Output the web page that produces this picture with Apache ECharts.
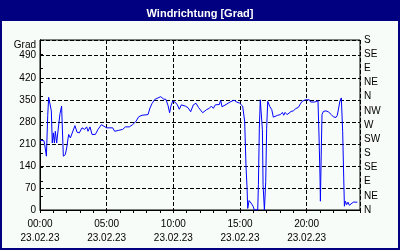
<!DOCTYPE html>
<html>
<head>
<meta charset="utf-8">
<script src="https://cdn.jsdelivr.net/npm/echarts@6/dist/echarts.min.js"></script>
<style>
  html, body { margin: 0; padding: 0; background: #f8fcf8; }
  #chart { width: 400px; height: 250px; }
</style>
</head>
<body>
<div id="chart"></div>
<script>
// Windrichtung über den Tag (Stunden seit 00:00, Grad)
const hours = [
  0.00, 0.30, 0.35, 0.48, 0.58, 0.65, 0.78, 0.85, 0.92, 1.00, 1.08, 1.15, 1.25, 1.38, 1.42, 1.50, 1.62, 1.75, 1.90, 2.00,
  2.15, 2.28, 2.40, 2.62, 2.78, 2.95, 3.15, 3.35, 3.50, 3.60, 3.75, 3.90, 4.15, 4.35, 4.60, 4.75, 5.00, 5.45, 5.60, 5.75,
  5.90, 6.05, 6.20, 6.40, 6.70, 6.95, 7.20, 7.40, 7.65, 8.10, 8.25, 8.40, 8.60, 8.85, 9.05, 9.25, 9.45, 9.60, 9.72, 9.82,
  9.95, 10.15, 10.30, 10.45, 10.60, 10.75, 10.90, 11.10, 11.20, 11.30, 11.50, 11.70, 11.90, 12.00, 12.20, 12.35, 12.50, 12.70, 12.85, 13.00,
  13.15, 13.30, 13.45, 13.55, 13.65, 13.80, 13.95, 14.10, 14.25, 14.40, 14.55, 14.65, 14.75, 14.85, 14.95, 15.10, 15.20, 15.30, 15.35, 15.45,
  15.53, 15.58, 15.68, 15.83, 15.98, 16.08, 16.33, 16.38, 16.45, 16.52, 16.62, 16.68, 16.73, 16.83, 16.93, 17.00, 17.08, 17.23, 17.38, 17.50,
  17.63, 17.83, 18.03, 18.18, 18.28, 18.38, 18.53, 18.68, 18.83, 19.00, 19.18, 19.38, 19.53, 19.65, 19.80, 19.90, 20.05, 20.20, 20.30, 20.45,
  20.60, 20.75, 20.85, 20.93, 21.00, 21.03, 21.10, 21.15, 21.25, 21.45, 21.65, 21.85, 22.00, 22.20, 22.30, 22.40, 22.50, 22.60, 22.70, 22.78,
  22.83, 22.90, 23.00, 23.10, 23.20, 23.35, 23.50, 23.65, 23.80
];
const degrees = [
  222, 220, 208, 171, 300, 358, 358, 315, 213, 245, 213, 250, 213, 213, 277, 306, 330, 171, 176, 197,
  240, 229, 234, 268, 247, 245, 261, 256, 264, 250, 264, 240, 240, 256, 271, 268, 261, 261, 250, 245,
  253, 247, 256, 264, 264, 271, 282, 296, 301, 303, 324, 338, 351, 356, 360, 353, 351, 332, 309, 330,
  346, 342, 334, 320, 334, 339, 330, 325, 330, 312, 334, 339, 325, 322, 309, 306, 319, 323, 330, 323,
  334, 328, 335, 349, 328, 330, 335, 330, 343, 338, 349, 353, 343, 349, 340, 335, 330, 334, 282, 140,
  69, 5, 30, 22, 12, 0, 0, 80, 260, 350, 350, 255, 80, 0, 91, 260, 345, 329, 319, 295,
  301, 301, 303, 310, 301, 310, 303, 308, 313, 315, 322, 326, 337, 345, 348, 350, 353, 350, 343, 347,
  343, 345, 347, 229, 105, 28, 197, 303, 313, 315, 311, 303, 296, 294, 301, 324, 347, 356, 250, 102,
  12, 28, 17, 25, 15, 19, 25, 21, 25
];
const directions = ['N', 'NE', 'E', 'SE', 'S', 'SW', 'W', 'NW', 'N', 'NE', 'E', 'SE', 'S'];
const dateLabel = '23.02.23';

const NAVY = '#000080';
const FONT = { fontFamily: 'Liberation Sans', fontSize: 10, color: '#000' };
const dashed = { color: '#000', type: [4, 2], width: 1 };

const chart = echarts.init(document.getElementById('chart'));

function pad2(n) { return (n < 10 ? '0' : '') + n; }

chart.setOption({
  animation: false,
  backgroundColor: '#f8fcf8',
  title: {
    text: 'Windrichtung [Grad]',
    left: 'center',
    top: 3,
    textStyle: { fontFamily: 'Liberation Sans', fontSize: 11, fontWeight: 'bold', color: '#fff' },
  },
  graphic: [
    { type: 'rect', z: -1, shape: { x: 0, y: 0, width: 400, height: 21 }, style: { fill: NAVY } },
    { type: 'rect', z: 100, shape: { x: 1, y: 1, width: 398, height: 248 }, style: { fill: null, stroke: NAVY, lineWidth: 2 } },
  ],
  grid: {
    left: 40, right: 40, top: 40, bottom: 40,
    containLabel: false,
    outerBoundsMode: 'none',
    show: true,
    backgroundColor: '#f8fcf8',
    borderColor: '#000',
    borderWidth: 1,
  },
  xAxis: [
    {
      type: 'value', min: 0, max: 24, interval: 5, position: 'bottom',
      axisLine: { show: true, lineStyle: { color: '#000' } },
      axisTick: { show: false },
      axisLabel: {
        ...FONT, margin: 7, lineHeight: 14, showMaxLabel: false,
        formatter: v => pad2(v) + ':00\n' + dateLabel,
      },
      splitLine: { show: true, lineStyle: dashed },
    },
    {
      type: 'value', min: 0, max: 24, interval: 1, position: 'bottom',
      axisLine: { show: false },
      axisTick: { show: true, length: 3, lineStyle: { color: '#000' } },
      axisLabel: { show: false },
      splitLine: { show: false },
    },
  ],
  yAxis: [
    {
      type: 'value', min: 0, max: 540, interval: 70, position: 'left',
      name: 'Grad', nameLocation: 'end', nameGap: -5,
      nameTextStyle: { ...FONT, align: 'right', verticalAlign: 'middle', padding: [0, 4, 0, 0] },
      axisLine: { show: true, lineStyle: { color: '#000' } },
      axisTick: { show: false },
      axisLabel: { ...FONT, margin: 4, showMaxLabel: false },
      splitLine: { show: true, lineStyle: dashed },
    },
    {
      type: 'value', min: 0, max: 540, interval: 45, position: 'right',
      axisLine: { show: true, lineStyle: { color: '#000' } },
      axisTick: { show: true, length: 3, lineStyle: { color: '#000' } },
      axisLabel: { ...FONT, margin: 4, formatter: v => directions[Math.round(v / 45)] },
      splitLine: { show: false },
    },
  ],
  series: [
    {
      name: 'Windrichtung',
      type: 'line',
      xAxisIndex: 0,
      yAxisIndex: 0,
      data: hours.map((h, i) => [h, degrees[i]]),
      symbol: 'none',
      smooth: false,
      lineStyle: { color: '#0000ff', width: 1 },
    },
  ],
});
</script>
</body>
</html>
